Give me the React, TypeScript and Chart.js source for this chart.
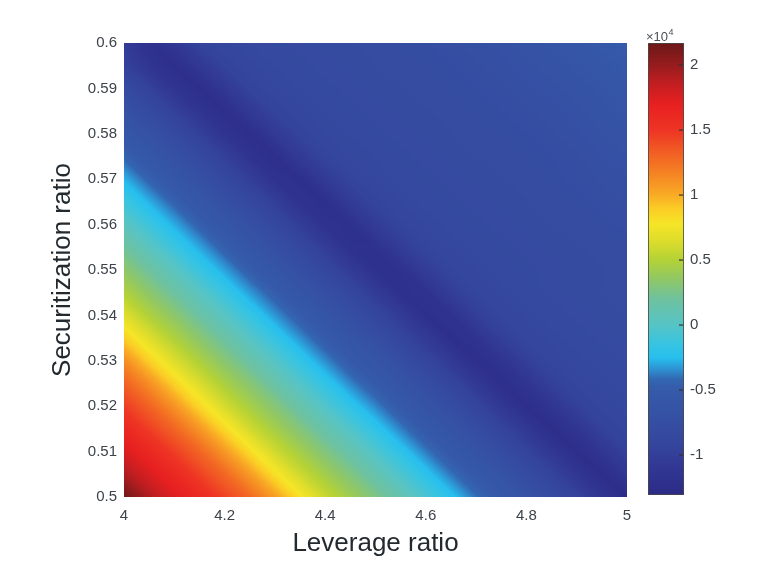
import React, { useEffect, useRef } from "react";
import { Chart, registerables } from "chart.js";

Chart.register(...registerables);

// Leverage ratio grid (x axis)
const LEVERAGE = [4.0, 4.05, 4.1, 4.15, 4.2, 4.25, 4.3, 4.35, 4.4, 4.45, 4.5, 4.55, 4.6, 4.65, 4.7, 4.75, 4.8, 4.85, 4.9, 4.95, 5.0];
// Securitization ratio grid (y axis), bottom -> top
const SECURITIZATION = [0.5, 0.505, 0.51, 0.515, 0.52, 0.525, 0.53, 0.535, 0.54, 0.545, 0.55, 0.555, 0.56, 0.565, 0.57, 0.575, 0.58, 0.585, 0.59, 0.595, 0.6];
// Surface values (x 10^4); one row per securitization ratio, one column per leverage ratio
const VALUES: number[][] = [
  [2.15, 1.92, 1.75, 1.60, 1.44, 1.28, 1.06, 0.80, 0.58, 0.42, 0.28, 0.12, -0.05, -0.22, -0.40, -0.55, -0.67, -0.80, -0.95, -1.12, -1.27],
  [1.93, 1.76, 1.61, 1.45, 1.29, 1.07, 0.81, 0.59, 0.43, 0.29, 0.13, -0.04, -0.21, -0.39, -0.54, -0.66, -0.79, -0.94, -1.11, -1.26, -1.11],
  [1.77, 1.62, 1.46, 1.30, 1.08, 0.83, 0.60, 0.44, 0.29, 0.14, -0.03, -0.20, -0.38, -0.54, -0.66, -0.79, -0.94, -1.10, -1.25, -1.12, -0.97],
  [1.62, 1.46, 1.30, 1.09, 0.84, 0.61, 0.44, 0.30, 0.14, -0.02, -0.19, -0.37, -0.53, -0.65, -0.78, -0.93, -1.09, -1.25, -1.13, -0.97, -0.89],
  [1.47, 1.31, 1.10, 0.85, 0.62, 0.45, 0.31, 0.15, -0.02, -0.19, -0.36, -0.52, -0.65, -0.77, -0.92, -1.09, -1.24, -1.13, -0.98, -0.89, -0.86],
  [1.32, 1.12, 0.87, 0.64, 0.46, 0.32, 0.16, -0.01, -0.18, -0.36, -0.51, -0.64, -0.77, -0.91, -1.08, -1.23, -1.14, -0.99, -0.90, -0.86, -0.84],
  [1.13, 0.88, 0.65, 0.47, 0.32, 0.17, 0.00, -0.17, -0.35, -0.51, -0.63, -0.76, -0.91, -1.07, -1.23, -1.15, -1.00, -0.90, -0.86, -0.84, -0.82],
  [0.89, 0.66, 0.48, 0.33, 0.18, 0.01, -0.16, -0.34, -0.50, -0.63, -0.75, -0.90, -1.06, -1.22, -1.16, -1.00, -0.90, -0.86, -0.84, -0.82, -0.81],
  [0.67, 0.48, 0.34, 0.18, 0.02, -0.15, -0.33, -0.49, -0.62, -0.75, -0.89, -1.05, -1.21, -1.17, -1.01, -0.91, -0.86, -0.84, -0.82, -0.81, -0.80],
  [0.49, 0.34, 0.19, 0.03, -0.14, -0.32, -0.48, -0.62, -0.74, -0.88, -1.04, -1.20, -1.18, -1.02, -0.91, -0.86, -0.84, -0.82, -0.81, -0.80, -0.79],
  [0.35, 0.20, 0.04, -0.14, -0.31, -0.48, -0.61, -0.74, -0.88, -1.04, -1.20, -1.19, -1.03, -0.92, -0.87, -0.84, -0.83, -0.82, -0.81, -0.80, -0.79],
  [0.21, 0.04, -0.13, -0.30, -0.47, -0.60, -0.73, -0.87, -1.03, -1.19, -1.19, -1.03, -0.92, -0.87, -0.84, -0.83, -0.82, -0.81, -0.80, -0.79, -0.78],
  [0.05, -0.12, -0.29, -0.46, -0.60, -0.72, -0.86, -1.02, -1.18, -1.20, -1.04, -0.92, -0.87, -0.84, -0.83, -0.82, -0.81, -0.80, -0.79, -0.78, -0.76],
  [-0.11, -0.28, -0.45, -0.59, -0.72, -0.85, -1.01, -1.17, -1.21, -1.05, -0.93, -0.87, -0.84, -0.83, -0.82, -0.81, -0.80, -0.79, -0.78, -0.76, -0.74],
  [-0.27, -0.45, -0.59, -0.71, -0.85, -1.00, -1.17, -1.22, -1.06, -0.93, -0.87, -0.84, -0.83, -0.82, -0.81, -0.80, -0.79, -0.78, -0.76, -0.74, -0.72],
  [-0.44, -0.58, -0.70, -0.84, -0.99, -1.16, -1.23, -1.06, -0.93, -0.87, -0.85, -0.83, -0.82, -0.81, -0.80, -0.79, -0.78, -0.77, -0.75, -0.72, -0.69],
  [-0.57, -0.70, -0.83, -0.98, -1.15, -1.24, -1.07, -0.94, -0.87, -0.85, -0.83, -0.82, -0.81, -0.80, -0.79, -0.78, -0.77, -0.75, -0.72, -0.69, -0.66],
  [-0.69, -0.82, -0.98, -1.14, -1.24, -1.08, -0.94, -0.88, -0.85, -0.83, -0.82, -0.81, -0.80, -0.79, -0.78, -0.77, -0.75, -0.73, -0.70, -0.66, -0.62],
  [-0.82, -0.97, -1.14, -1.25, -1.09, -0.94, -0.88, -0.85, -0.83, -0.82, -0.81, -0.80, -0.79, -0.78, -0.77, -0.75, -0.73, -0.70, -0.67, -0.63, -0.59],
  [-0.96, -1.13, -1.24, -1.09, -0.95, -0.88, -0.85, -0.83, -0.82, -0.81, -0.80, -0.79, -0.78, -0.77, -0.75, -0.73, -0.70, -0.67, -0.63, -0.59, -0.54],
  [-1.05, -1.20, -1.10, -0.95, -0.88, -0.85, -0.83, -0.82, -0.81, -0.80, -0.79, -0.78, -0.77, -0.75, -0.73, -0.70, -0.67, -0.63, -0.59, -0.54, -0.48],
];

const X_TICKS = [4, 4.2, 4.4, 4.6, 4.8, 5];
const X_TICK_LABELS = ["4", "4.2", "4.4", "4.6", "4.8", "5"];
const Y_TICKS = [0.5, 0.51, 0.52, 0.53, 0.54, 0.55, 0.56, 0.57, 0.58, 0.59, 0.6];
const Y_TICK_LABELS = ["0.5", "0.51", "0.52", "0.53", "0.54", "0.55", "0.56", "0.57", "0.58", "0.59", "0.6"];
const CB_TICKS = [-1, -0.5, 0, 0.5, 1, 1.5, 2];
const CB_TICK_LABELS = ["-1", "-0.5", "0", "0.5", "1", "1.5", "2"];
const CB_MIN = -1.323;
const CB_MAX = 2.17;

// colormap (value x10^4 -> colour)
const CMAP_STOPS = [-1.323, -1.1, -0.95, -0.7, -0.5, -0.42, -0.33, -0.25, -0.15, 0.0, 0.2, 0.35, 0.5, 0.65, 0.78, 0.9, 1.0, 1.2, 1.35, 1.5, 1.7, 1.85, 2.0, 2.17];
const CMAP_COLORS = ["#2b2a84", "#313794", "#34439b", "#3551a4", "#355aa9", "#3366b2", "#2d97d5", "#27bfee", "#36c4e2", "#56c4c6", "#6ec29f", "#8fc767", "#b3d236", "#dedd2b", "#f6e527", "#fbcb25", "#f9ab25", "#f47b23", "#f15924", "#ee3424", "#e72020", "#c41e21", "#961c1e", "#6c1717"];

const hexToRgb = (h: string) => [parseInt(h.slice(1, 3), 16), parseInt(h.slice(3, 5), 16), parseInt(h.slice(5, 7), 16)];
const CMAP_RGB = CMAP_COLORS.map(hexToRgb);

function colorFor(v: number): number[] {
  if (v <= CMAP_STOPS[0]) return CMAP_RGB[0];
  const n = CMAP_STOPS.length;
  if (v >= CMAP_STOPS[n - 1]) return CMAP_RGB[n - 1];
  for (let k = 0; k < n - 1; k++) {
    if (v <= CMAP_STOPS[k + 1]) {
      const t = (v - CMAP_STOPS[k]) / (CMAP_STOPS[k + 1] - CMAP_STOPS[k]);
      const a = CMAP_RGB[k], b = CMAP_RGB[k + 1];
      return [a[0] + (b[0] - a[0]) * t, a[1] + (b[1] - a[1]) * t, a[2] + (b[2] - a[2]) * t];
    }
  }
  return CMAP_RGB[n - 1];
}

function fracIndex(arr: number[], v: number): number {
  const n = arr.length;
  if (v <= arr[0]) return 0;
  if (v >= arr[n - 1]) return n - 1;
  for (let i = 0; i < n - 1; i++) {
    if (v <= arr[i + 1]) return i + (v - arr[i]) / (arr[i + 1] - arr[i]);
  }
  return n - 1;
}

function sample(fi: number, fj: number): number {
  const nx = LEVERAGE.length, ny = SECURITIZATION.length;
  let i = Math.floor(fi), j = Math.floor(fj);
  if (i >= nx - 1) i = nx - 2;
  if (j >= ny - 1) j = ny - 2;
  const a = fi - i, b = fj - j;
  const v00 = VALUES[j][i], v10 = VALUES[j][i + 1], v01 = VALUES[j + 1][i], v11 = VALUES[j + 1][i + 1];
  if (a + b <= 1) return v00 + a * (v10 - v00) + b * (v01 - v00);
  return v11 + (1 - a) * (v01 - v11) + (1 - b) * (v10 - v11);
}

const heatmapPlugin = {
  id: "heatmap",
  beforeDatasetsDraw(chart: any) {
    const { ctx, chartArea, scales } = chart;
    const xs = scales.x, ys = scales.y;
    const x0 = Math.round(chartArea.left), y0 = Math.round(chartArea.top);
    const w = Math.round(chartArea.right) - x0, h = Math.round(chartArea.bottom) - y0;
    const img = ctx.createImageData(w, h);
    const d = img.data;
    const fis: number[] = [];
    for (let px = 0; px < w; px++) fis.push(fracIndex(LEVERAGE, xs.getValueForPixel(x0 + px + 0.5)));
    for (let py = 0; py < h; py++) {
      const fj = fracIndex(SECURITIZATION, ys.getValueForPixel(y0 + py + 0.5));
      for (let px = 0; px < w; px++) {
        const c = colorFor(sample(fis[px], fj));
        const o = (py * w + px) * 4;
        d[o] = c[0]; d[o + 1] = c[1]; d[o + 2] = c[2]; d[o + 3] = 255;
      }
    }
    ctx.putImageData(img, x0, y0);
  },
};

const colorbarPlugin = {
  id: "colorbar",
  afterDraw(chart: any) {
    const { ctx, chartArea } = chart;
    const cb = chart.scales.cb;
    const sp = chart.scales.sp;
    const left = sp.left + 21, right = sp.left + 57;
    const top = chartArea.top, bottom = chartArea.bottom - 2;
    ctx.save();
    for (let y = Math.round(top); y < Math.round(bottom); y++) {
      const c = colorFor(cb.getValueForPixel(y + 0.5));
      ctx.fillStyle = `rgb(${Math.round(c[0])},${Math.round(c[1])},${Math.round(c[2])})`;
      ctx.fillRect(left, y, right - left, 1);
    }
    ctx.strokeStyle = "#4a4a4a";
    ctx.lineWidth = 0.8;
    ctx.strokeRect(left + 0.5, top + 0.5, right - left - 1, bottom - top - 1);
    ctx.strokeStyle = "#333";
    ctx.lineWidth = 1.2;
    CB_TICKS.forEach((v) => {
      const y = cb.getPixelForValue(v);
      ctx.beginPath();
      ctx.moveTo(right - 5, y);
      ctx.lineTo(right - 1, y);
      ctx.stroke();
    });
    // exponent label
    ctx.fillStyle = "#4a5056";
    ctx.textBaseline = "alphabetic";
    ctx.textAlign = "left";
    ctx.font = '13px "Liberation Sans", Arial, sans-serif';
    ctx.fillText("\u00d710", left - 2, top - 2);
    const wTxt = ctx.measureText("\u00d710").width;
    ctx.font = '9px "Liberation Sans", Arial, sans-serif';
    ctx.fillText("4", left - 2 + wTxt + 0.5, top - 8);
    ctx.restore();
  },
};

const FONT = '"Liberation Sans", Arial, sans-serif';
const TICK_COLOR = "#3d4349";
const TITLE_COLOR = "#222a30";

export default function App() {
  const ref = useRef<HTMLCanvasElement>(null);
  useEffect(() => {
    document.body.style.margin = "0";
    document.body.style.background = "#ffffff";
    const canvas = ref.current;
    if (!canvas) return;
    const chart = new Chart(canvas, {
      type: "scatter",
      data: { datasets: [] },
      plugins: [heatmapPlugin, colorbarPlugin],
      options: {
        animation: false,
        responsive: false,
        devicePixelRatio: 1,
        layout: { padding: { top: 43, left: 0, right: 0, bottom: 0 } },
        plugins: { legend: { display: false }, tooltip: { enabled: false } },
        scales: {
          x: {
            type: "linear",
            position: "bottom",
            min: 4,
            max: 5,
            grid: { display: false, drawTicks: false },
            border: { display: false },
            afterBuildTicks: (s: any) => { s.ticks = X_TICKS.map((v) => ({ value: v })); },
            afterFit: (s: any) => { s.height = 81; },
            ticks: {
              padding: 10,
              color: TICK_COLOR,
              font: { family: FONT, size: 15 },
              maxRotation: 0,
              autoSkip: false,
              callback: (_v: any, i: number) => X_TICK_LABELS[i],
            },
            title: {
              display: true,
              text: "Leverage ratio",
              color: TITLE_COLOR,
              font: { family: FONT, size: 26 },
              padding: { top: 0, bottom: 19 },
            },
          },
          y: {
            type: "linear",
            position: "left",
            min: 0.5,
            max: 0.6,
            grid: { display: false, drawTicks: false },
            border: { display: false },
            afterBuildTicks: (s: any) => { s.ticks = Y_TICKS.map((v) => ({ value: v })); },
            afterFit: (s: any) => { s.width = 124; },
            ticks: {
              padding: 7,
              color: TICK_COLOR,
              font: { family: FONT, size: 15 },
              autoSkip: false,
              callback: (_v: any, i: number) => Y_TICK_LABELS[i],
            },
            title: {
              display: true,
              text: "Securitization ratio",
              color: TITLE_COLOR,
              font: { family: FONT, size: 26 },
              padding: { top: 47, bottom: 0 },
            },
          },
          sp: {
            type: "linear",
            position: "right",
            weight: 0,
            min: 0,
            max: 1,
            grid: { display: false, drawTicks: false },
            border: { display: false },
            ticks: { display: false },
            afterFit: (s: any) => { s.width = 56; },
          },
          cb: {
            type: "linear",
            position: "right",
            weight: 1,
            min: CB_MIN,
            max: CB_MAX,
            grid: { display: false, drawTicks: false },
            border: { display: false },
            afterBuildTicks: (s: any) => { s.ticks = CB_TICKS.map((v) => ({ value: v })); },
            afterFit: (s: any) => { s.width = 98; },
            ticks: {
              padding: 7,
              color: TICK_COLOR,
              font: { family: FONT, size: 15 },
              autoSkip: false,
              callback: (_v: any, i: number) => CB_TICK_LABELS[i],
            },
          },
        },
      },
    } as any);
    return () => chart.destroy();
  }, []);
  return (
    <div style={{ width: 781, height: 578 }}>
      <canvas ref={ref} width={781} height={578} style={{ display: "block" }} />
    </div>
  );
}
